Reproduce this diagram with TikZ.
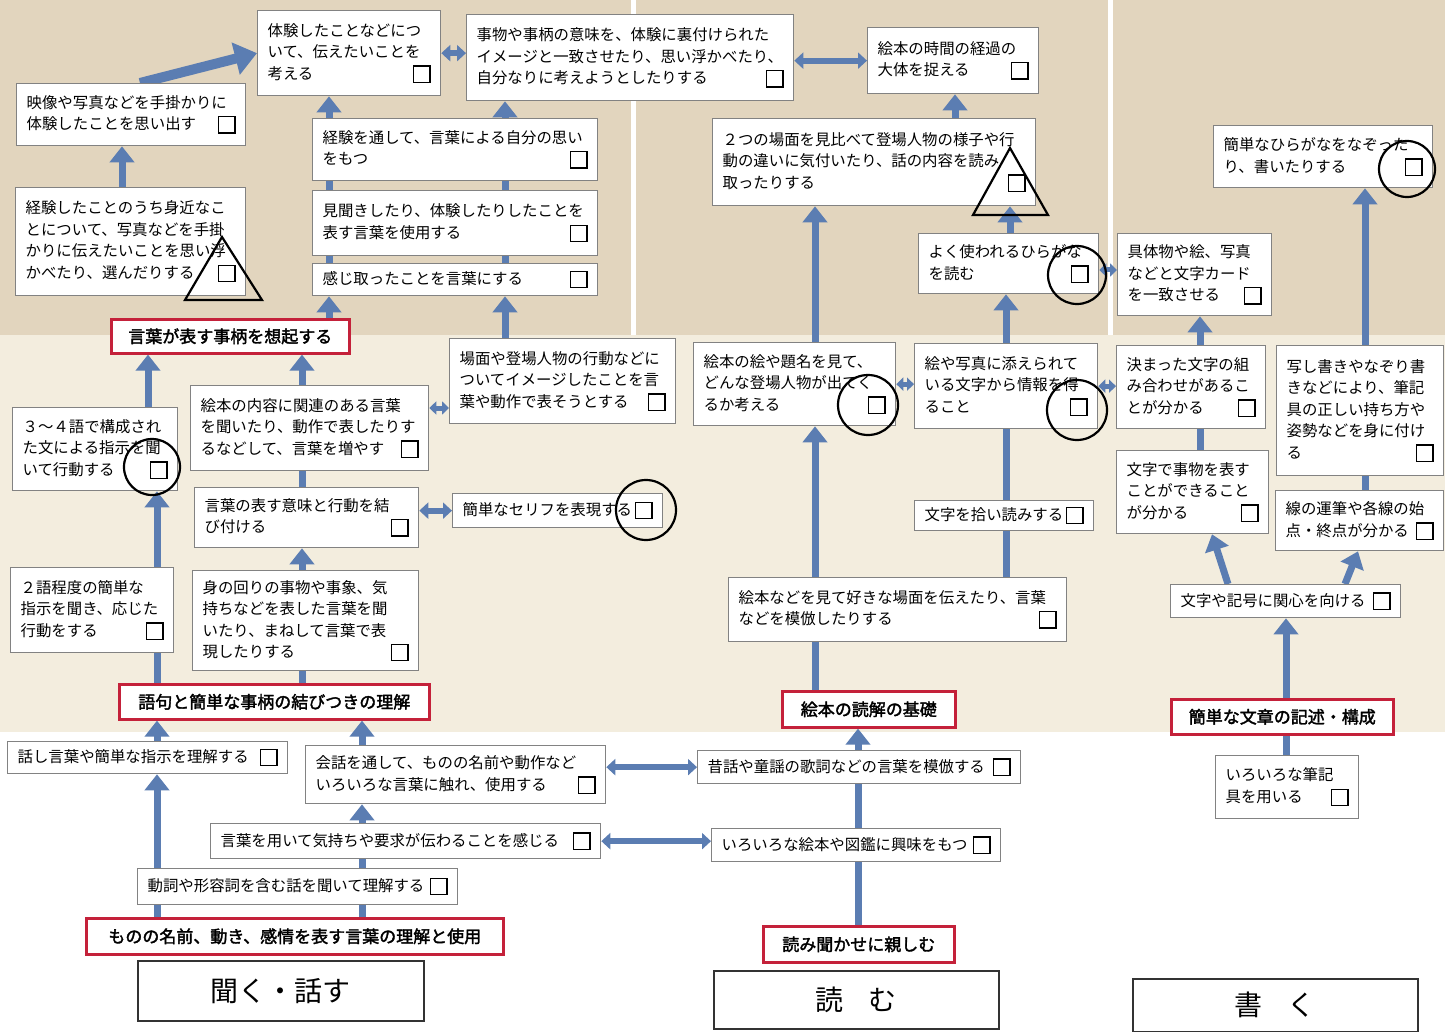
\documentclass[tikz,border=0pt]{standalone}
\usepackage{fontspec}
\setmainfont{Noto Sans CJK JP}[AutoFakeBold=2]
\usetikzlibrary{arrows.meta,calc}
\definecolor{bgtan}{RGB}{226,213,190}
\definecolor{bgcream}{RGB}{243,237,222}
\definecolor{arrc}{RGB}{91,125,178}
\definecolor{redc}{RGB}{196,33,58}
\definecolor{boxc}{RGB}{130,130,130}
\newcommand{\ckbox}{{\setlength{\fboxsep}{0pt}\setlength{\fboxrule}{1.3pt}\raisebox{-2.5pt}{\fbox{\rule{0pt}{15pt}\rule{15pt}{0pt}}}}}
\newcommand{\fillx}{\hspace{0pt plus 1filll}}
\newcommand{\bxn}[6]{\pgfmathsetmacro{\mybw}{#4-#2-20}\pgfmathsetmacro{\mybh}{#5-#3}%
  \node[bx, text width=\mybw pt, minimum height=\mybh pt] (#1) at (#2,#3) {#6};}
\newcommand{\rbn}[6]{\pgfmathsetmacro{\mybw}{#4-#2}\pgfmathsetmacro{\mybh}{#5-#3}%
  \node[rb, minimum width=\mybw pt, minimum height=\mybh pt] (#1) at (#2,#3) {#6};}
\newcommand{\tbn}[6]{\pgfmathsetmacro{\mybw}{#4-#2}\pgfmathsetmacro{\mybh}{#5-#3}%
  \node[tb, minimum width=\mybw pt, minimum height=\mybh pt] (#1) at (#2,#3) {#6};}
\pgfdeclarelayer{bglayer}
\pgfdeclarelayer{arlayer}
\pgfsetlayers{bglayer,arlayer,main}
\tikzset{
 bx/.style={draw=boxc, line width=1.3pt, fill=white, inner xsep=10pt, inner ysep=4pt, align=left, anchor=north west, font=\fontsize{15.4pt}{21.5pt}\selectfont},
 rb/.style={draw=redc, line width=2.6pt, fill=white, inner sep=2pt, anchor=north west, font=\fontsize{17pt}{20pt}\selectfont\bfseries},
 tb/.style={draw=black!80, line width=1.6pt, fill=white, anchor=north west, font=\fontsize{28pt}{32pt}\selectfont},
 ar/.style={draw=arrc, line width=7pt, -{Triangle[width=24pt,length=16pt]}},
 arb/.style={draw=arrc, line width=10pt, -{Triangle[width=32pt,length=22pt]}},
 ln/.style={draw=arrc, line width=7pt},
 dar/.style={draw=arrc, line width=6pt, {Triangle[width=16pt,length=9pt]}-{Triangle[width=16pt,length=9pt]}},
 dars/.style={draw=arrc, line width=5pt, {Triangle[width=13pt,length=7pt]}-{Triangle[width=13pt,length=7pt]}},
 mk/.style={draw=black, line width=2.2pt},
}
\begin{document}
\begin{tikzpicture}[x=1pt,y=-1pt]
\useasboundingbox (0,0) rectangle (1445,1032);
\begin{pgfonlayer}{bglayer}
\fill[white] (0,0) rectangle (1445,1032);
\fill[bgtan] (0,0) rectangle (1445,335);
\fill[bgcream] (0,335) rectangle (1445,732);
\fill[white] (631,0) rectangle (636,335);
\fill[white] (1108,0) rectangle (1113,335);
\end{pgfonlayer}

% ---------- 聞く・話す ----------
\bxn{L1}{257}{10}{440}{95}{体験したことなどにつ\\いて、伝えたいことを\\考える\fillx\ckbox}
\bxn{L2}{16}{83}{245}{145}{映像や写真などを手掛かりに\\体験したことを思い出す\fillx\ckbox}
\bxn{L3}{15}{187}{245}{295}{経験したことのうち身近なこ\\とについて、写真などを手掛\\かりに伝えたいことを思い浮\\かべたり、選んだりする\fillx\ckbox}
\bxn{M1}{312}{118}{597}{180}{経験を通して、言葉による自分の思い\\をもつ\fillx\ckbox}
\bxn{M2}{312}{190}{597}{255}{見聞きしたり、体験したりしたことを\\表す言葉を使用する\fillx\ckbox}
\bxn{M3}{312}{263}{597}{295}{感じ取ったことを言葉にする\fillx\ckbox}
\bxn{M4}{466}{14}{793}{100}{事物や事柄の意味を、体験に裏付けられた\\イメージと一致させたり、思い浮かべたり、\\自分なりに考えようとしたりする\fillx\ckbox}
\rbn{K1}{110}{318}{348}{352}{言葉が表す事柄を想起する}
\bxn{L4}{12}{407}{177}{490}{３～４語で構成され\\た文による指示を聞\\いて行動する\fillx\ckbox}
\bxn{L5}{10}{567}{173}{652}{２語程度の簡単な\\指示を聞き、応じた\\行動をする\fillx\ckbox}
\bxn{M5}{190}{385}{428}{470}{絵本の内容に関連のある言葉\\を聞いたり、動作で表したりす\\るなどして、言葉を増やす\fillx\ckbox}
\bxn{M6}{194}{487}{418}{547}{言葉の表す意味と行動を結\\び付ける\fillx\ckbox}
\bxn{M7}{192}{570}{418}{670}{身の回りの事物や事象、気\\持ちなどを表した言葉を聞\\いたり、まねして言葉で表\\現したりする\fillx\ckbox}
\bxn{M8}{449}{338}{675}{423}{場面や登場人物の行動などに\\ついてイメージしたことを言\\葉や動作で表そうとする\fillx\ckbox}
\bxn{M9}{452}{493}{662}{527}{簡単なセリフを表現する\fillx\ckbox}
\rbn{K2}{118}{683}{428}{718}{語句と簡単な事柄の結びつきの理解}
\bxn{L6}{7}{741}{287}{773}{話し言葉や簡単な指示を理解する\fillx\ckbox}
\bxn{M10}{305}{745}{605}{803}{会話を通して、ものの名前や動作など\\いろいろな言葉に触れ、使用する\fillx\ckbox}
\bxn{M11}{210}{823}{600}{858}{言葉を用いて気持ちや要求が伝わることを感じる\fillx\ckbox}
\bxn{M12}{137}{868}{457}{904}{動詞や形容詞を含む話を聞いて理解する\fillx\ckbox}
\rbn{K3}{85}{917}{502}{953}{ものの名前、動き、感情を表す言葉の理解と使用}
\tbn{T1}{137}{960}{423}{1020}{聞く・話す}

% ---------- 読む ----------
\bxn{R1}{867}{27}{1038}{93}{絵本の時間の経過の\\大体を捉える\fillx\ckbox}
\bxn{R2}{712}{118}{1035}{205}{２つの場面を見比べて登場人物の様子や行\\動の違いに気付いたり、話の内容を読み\\取ったりする\fillx\ckbox}
\bxn{R3}{918}{233}{1098}{293}{よく使われるひらがな\\を読む\fillx\ckbox}
\bxn{R4}{693}{342}{895}{425}{絵本の絵や題名を見て、\\どんな登場人物が出てく\\るか考える\fillx\ckbox}
\bxn{R5}{914}{343}{1097}{428}{絵や写真に添えられて\\いる文字から情報を得\\ること\fillx\ckbox}
\bxn{R6}{914}{500}{1093}{530}{文字を拾い読みする\fillx\ckbox}
\bxn{R7}{728}{577}{1066}{641}{絵本などを見て好きな場面を伝えたり、言葉\\などを模倣したりする\fillx\ckbox}
\rbn{K4}{781}{690}{954}{726}{絵本の読解の基礎}
\bxn{R8}{697}{750}{1020}{783}{昔話や童謡の歌詞などの言葉を模倣する\fillx\ckbox}
\bxn{R9}{711}{828}{1000}{861}{いろいろな絵本や図鑑に興味をもつ\fillx\ckbox}
\rbn{K5}{762}{925}{953}{961}{読み聞かせに親しむ}
\tbn{T2}{713}{970}{998}{1028}{読\hspace{0.9em}む}

% ---------- 書く ----------
\bxn{W1}{1213}{125}{1432}{187}{簡単なひらがなをなぞった\\り、書いたりする\fillx\ckbox}
\bxn{W2}{1117}{233}{1271}{315}{具体物や絵、写真\\などと文字カード\\を一致させる\fillx\ckbox}
\bxn{W3}{1116}{345}{1265}{428}{決まった文字の組\\み合わせがあるこ\\とが分かる\fillx\ckbox}
\bxn{W4}{1116}{450}{1268}{533}{文字で事物を表す\\ことができること\\が分かる\fillx\ckbox}
\bxn{W5}{1276}{345}{1443}{475}{写し書きやなぞり書\\きなどにより、筆記\\具の正しい持ち方や\\姿勢などを身に付け\\る\fillx\ckbox}
\bxn{W6}{1275}{490}{1443}{550}{線の運筆や各線の始\\点・終点が分かる\fillx\ckbox}
\bxn{W7}{1170}{584}{1400}{617}{文字や記号に関心を向ける\fillx\ckbox}
\rbn{K6}{1170}{698}{1392}{733}{簡単な文章の記述・構成}
\bxn{W8}{1215}{755}{1358}{818}{いろいろな筆記\\具を用いる\fillx\ckbox}
\tbn{T3}{1132}{978}{1417}{1031}{書\hspace{0.9em}く}

% column coordinates
\coordinate (c122) at (122,0);
\coordinate (c140) at (140,0);
\coordinate (c148) at (148,0);
\coordinate (c157) at (157,0);
\coordinate (c302) at (302,0);
\coordinate (c329) at (329,0);
\coordinate (c362) at (362,0);
\coordinate (c505) at (505,0);
\coordinate (c815) at (815,0);
\coordinate (c858) at (858,0);
\coordinate (c955) at (955,0);
\coordinate (c1006) at (1006,0);
\coordinate (c1010) at (1010,0);
\coordinate (c1200) at (1200,0);
\coordinate (c1212) at (1212,0);
\coordinate (c1228) at (1228,0);
\coordinate (c1286) at (1286,0);
\coordinate (c1345) at (1345,0);
\coordinate (c1358) at (1358,0);
\coordinate (c1365) at (1365,0);
\coordinate (y270) at (0,270);
\coordinate (y408) at (0,408);

\begin{pgfonlayer}{arlayer}
% 聞く・話す
\draw[ar] (K3.north -| c157) -- (L6.south -| c157);
\draw[ar] (L6.north -| c157) -- (K2.south -| c157);
\draw[ar] (K2.north -| c157) -- (L4.south -| c157);
\draw[ar] (L4.north -| c148) -- (K1.south -| c148);
\draw[ar] (K3.north -| c362) -- (M10.south -| c362);
\draw[ar] (M10.north -| c362) -- (K2.south -| c362);
\draw[ln] (K2.north -| c302) -- (M7.south -| c302);
\draw[ar] (M7.north -| c302) -- (M6.south -| c302);
\draw[ln] (M6.north -| c302) -- (M5.south -| c302);
\draw[ar] (M5.north -| c302) -- (K1.south -| c302);
\draw[ar] (L3.north -| c122) -- (L2.south -| c122);
\draw[arb] (L2.north -| c140) -- (L1.west);
\draw[ar] (K1.north -| c329) -- (M3.south -| c329);
\draw[ln] (M3.north -| c329) -- (M2.south -| c329);
\draw[ln] (M2.north -| c329) -- (M1.south -| c329);
\draw[ar] (M1.north -| c329) -- (L1.south -| c329);
\draw[ar] (M8.north -| c505) -- (M3.south -| c505);
\draw[ln] (M3.north -| c505) -- (M2.south -| c505);
\draw[ln] (M2.north -| c505) -- (M1.south -| c505);
\draw[ar] (M1.north -| c505) -- (M4.south -| c505);
% horizontal links
\draw[dar] (L1.east) -- (M4.west |- L1.east);
\draw[dar] (M4.east |- R1.west) -- (R1.west);
\draw[dars] (M5.east |- y408) -- (M8.west |- y408);
\draw[dar] (M6.east |- M9.west) -- (M9.west);
\draw[dar] (M10.east |- R8.west) -- (R8.west);
\draw[dar] (M11.east) -- (R9.west |- M11.east);
\draw[dars] (R4.east) -- (R5.west |- R4.east);
\draw[dars] (R5.east) -- (W3.west |- R5.east);
\draw[dars] (R3.east |- y270) -- (W2.west |- y270);
% 読む
\draw[ln] (K5.north -| c858) -- (R9.south -| c858);
\draw[ln] (R9.north -| c858) -- (R8.south -| c858);
\draw[ar] (R8.north -| c858) -- (K4.south -| c858);
\draw[ar] (K4.north -| c815) -- (R4.south -| c815);
\draw[ar] (R4.north -| c815) -- (R2.south -| c815);
\draw[ln] (R7.north -| c1006) -- (R6.south -| c1006);
\draw[ln] (R6.north -| c1006) -- (R5.south -| c1006);
\draw[ar] (R5.north -| c1006) -- (R3.south -| c1006);
\draw[ar] (R3.north -| c1010) -- (R2.south -| c1010);
\draw[ar] (R2.north -| c955) -- (R1.south -| c955);
% 書く
\draw[ar] (K6.north -| c1286) -- (W7.south -| c1286);
\draw[ln] (W8.north -| c1286) -- (K6.south -| c1286);
\draw[ar] (W7.north -| c1228) -- (W4.south -| c1212);
\draw[ar] (W7.north -| c1345) -- (W6.south -| c1358);
\draw[ln] (W4.north -| c1200) -- (W3.south -| c1200);
\draw[ar] (W3.north -| c1200) -- (W2.south -| c1200);
\draw[ln] (W6.north -| c1365) -- (W5.south -| c1365);
\draw[ar] (W5.north -| c1365) -- (W1.south -| c1365);
\end{pgfonlayer}

% marks
\draw[mk] (152,467) circle[radius=28];
\draw[mk] (646,510) circle[radius=30];
\draw[mk] (868,405) circle[radius=30];
\draw[mk] (1077,410) circle[radius=30];
\draw[mk] (1077,275) circle[radius=29];
\draw[mk] (1407,169) circle[radius=28];
\draw[mk] (222,237) -- (185,300) -- (262,300) -- cycle;
\draw[mk] (1010,148) -- (973,215) -- (1048,215) -- cycle;
\end{tikzpicture}
\end{document}
